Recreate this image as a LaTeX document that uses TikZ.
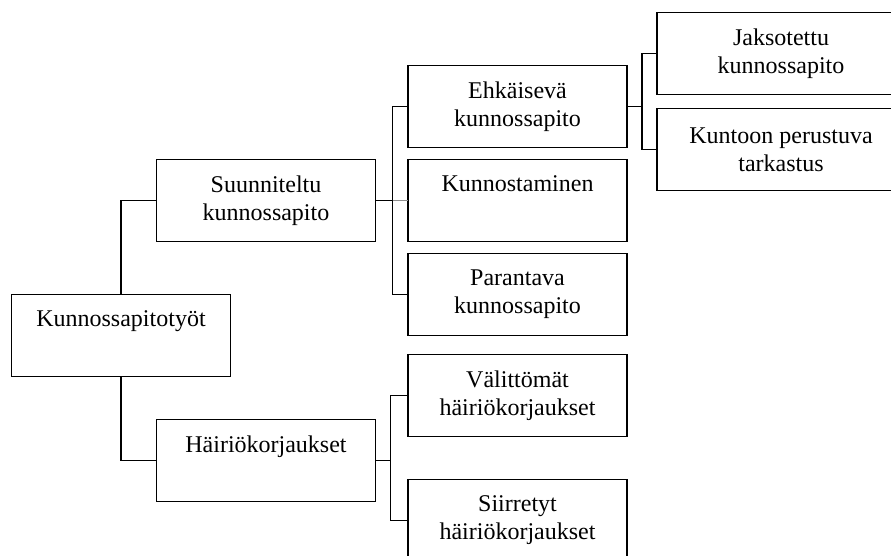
\documentclass[tikz,border=0pt]{standalone}
\usepackage{fontspec}
\setmainfont{Liberation Serif}
\usetikzlibrary{positioning}
\newcommand\boxfont{\fontsize{24}{28}\selectfont}

\begin{document}
\begin{tikzpicture}[x=1pt,y=-1pt,align=center,node distance=12pt]
\tikzstyle{box}=[rectangle,draw=black,line width=1.8pt,inner sep=0pt,outer sep=0pt,minimum width=219pt,minimum height=82pt,font=\boxfont]
\tikzstyle{wide}=[box,minimum width=248pt]
\tikzstyle{link}=[line width=1.8pt]
\tikzstyle{faint}=[line width=1.8pt,draw=black!45]

\path[use as bounding box,clip] (0,0) rectangle (891,556);

\node[box] (root) at (121,335.5) {Kunnossapitotyöt\\\vphantom{p}};
\node[box] (suun) at (266,200.5) {Suunniteltu\\kunnossapito};
\node[box] (hairio) at (266,460.5) {Häiriökorjaukset\\\vphantom{p}};

\node[box] (ehk) at (517.5,106.5) {Ehkäisevä\\kunnossapito};
\node[box] (kunnost) [below=of ehk] {Kunnostaminen\\\vphantom{p}};
\node[box] (parant) [below=of kunnost] {Parantava\\kunnossapito};
\node[box] (valit) [below=19pt of parant] {Välittömät\\häiriökorjaukset};
\node[box] (siirr) [below=43pt of valit] {Siirretyt\\häiriökorjaukset};

\node[wide] (jaks) at (781,53.5) {Jaksotettu\\kunnossapito};
\node[wide] (kunt) [below=14pt of jaks] {Kuntoon perustuva\\tarkastus};

% root to the two main branches
\draw[link] (root.north) |- (suun.west);
\draw[link] (root.south) |- (hairio.west);

% planned maintenance
\draw[link] (suun.east) -- ++(17,0) coordinate (sbus);
\draw[link] (ehk.west) -| (sbus) |- (parant.west);
\draw[faint] (sbus) -- (kunnost.west);

% breakdown repairs
\draw[link] (hairio.east) -- ++(15,0) coordinate (hbus);
\draw[link] (valit.west) -| (hbus) |- (siirr.west);

% preventive maintenance
\draw[link] (ehk.east) -- ++(15,0) coordinate (ebus);
\draw[link] (jaks.west) -| (ebus) |- (kunt.west);
\end{tikzpicture}
\end{document}
